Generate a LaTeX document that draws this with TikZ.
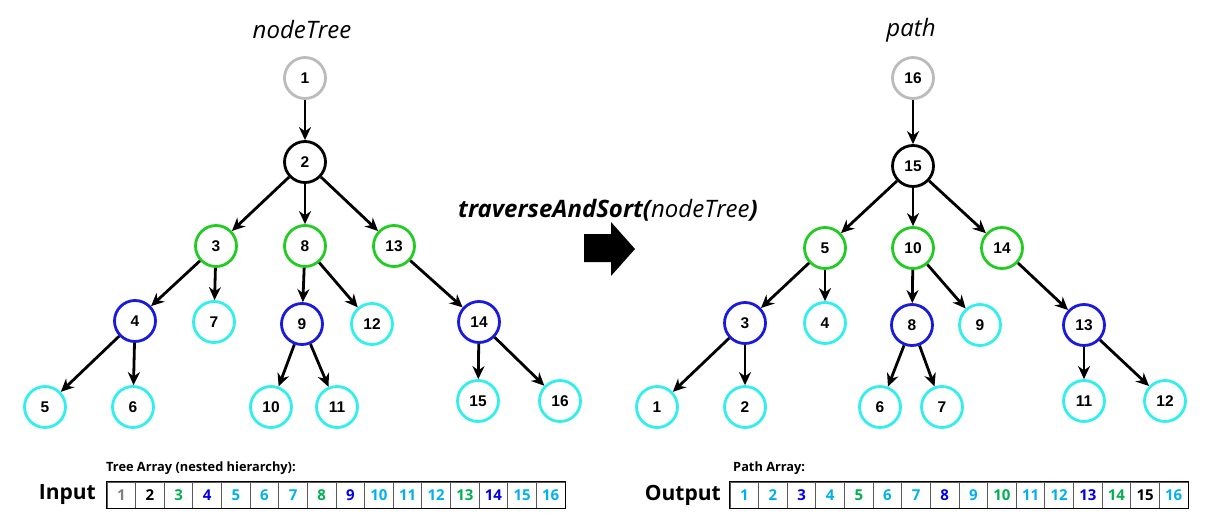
\documentclass[tikz,border=0pt]{standalone}
\usepackage{fontspec}
\setmainfont{Liberation Sans}
\newfontfamily\arrfont{Open Sans}
\newfontfamily\titlefont{Open Sans}
\usetikzlibrary{arrows.meta}

\definecolor{rootgray}{HTML}{BBBBBB}
\definecolor{levelgreen}{HTML}{22CC22}
\definecolor{levelblue}{HTML}{1A1ADD}
\definecolor{leafcyan}{HTML}{33EEEE}
\definecolor{txtgray}{HTML}{808080}
\definecolor{txtgreen}{HTML}{00B050}
\definecolor{txtblue}{HTML}{0000E6}
\definecolor{txtcyan}{HTML}{00B0F0}

\tikzset{
  tn/.style={circle, draw=#1, line width=2.8pt, minimum size=41pt, inner sep=0pt,
    fill=white, font=\fontsize{15.5}{15.5}\selectfont\bfseries},
  edge/.style={line width=2.8pt, -{Stealth[length=13pt,width=12pt]}},
  cell/.style={draw=gray!70!black, line width=0.8pt, minimum width=28.625pt,
    minimum height=26pt, inner sep=0pt, text=#1,
    font=\arrfont\fontsize{15}{15}\selectfont\bfseries},
  arrlabel/.style={anchor=west, inner sep=0pt, font=\arrfont\fontsize{12.8}{12.8}\selectfont\bfseries},
  iolabel/.style={anchor=east, inner sep=0pt, font=\arrfont\fontsize{21}{21}\selectfont\bfseries},
  title/.style={font=\titlefont\fontsize{24}{24}\selectfont\itshape}
}

\begin{document}
\begin{tikzpicture}[x=1pt,y=-1pt]
  \useasboundingbox (0,0) rectangle (1214,527);

  % titles
  \node[title] (tleft) at (302,30) {nodeTree};
  \node[title] (tright) at (911,30) {path};
  \node[title] (func) at (608,210) {\bfseries traverseAndSort(\mdseries nodeTree\bfseries)};

  % block arrow
  \fill (584,234) -- (611,234) -- (611,222) -- (635,249) -- (611,276) -- (611,262) -- (584,262) -- cycle;

  % input tree
  \foreach \n/\x/\y/\c in {1/305/78/rootgray, 2/305/162/black,
      3/216/246/levelgreen, 8/305/246/levelgreen, 13/394/246/levelgreen,
      4/135/321/levelblue, 7/214/322/leafcyan, 9/302/324/levelblue,
      12/372/324/leafcyan, 14/479/322/levelblue,
      5/45/407/leafcyan, 6/133/407/leafcyan, 10/271/407/leafcyan,
      11/337/407/leafcyan, 15/478/401/leafcyan, 16/560/401/leafcyan}
    \node[tn=\c] (l\n) at (\x,\y) {\n};
  \foreach \a/\b in {1/2, 2/3, 2/8, 2/13, 3/4, 3/7, 4/5, 4/6, 8/9, 8/12,
      9/10, 9/11, 13/14, 14/15, 14/16}
    \draw[edge] (l\a) -- (l\b);

  % output tree
  \foreach \n/\x/\y/\c in {16/913/78/rootgray, 15/913/166/black,
      5/825/248/levelgreen, 10/913/248/levelgreen, 14/1002/248/levelgreen,
      3/745/323/levelblue, 4/825/323/leafcyan, 8/912/325/levelblue,
      9/980/325/leafcyan, 13/1084/325/levelblue,
      1/657/407/leafcyan, 2/745/407/leafcyan, 6/880/407/leafcyan,
      7/942/407/leafcyan, 11/1084/401/leafcyan, 12/1165/401/leafcyan}
    \node[tn=\c] (r\n) at (\x,\y) {\n};
  \foreach \a/\b in {16/15, 15/5, 15/10, 15/14, 5/3, 5/4, 3/1, 3/2, 10/8, 10/9,
      8/6, 8/7, 14/13, 13/11, 13/12}
    \draw[edge] (r\a) -- (r\b);

  % arrays
  \node[iolabel] (input) at (96,495) {Input};
  \node[arrlabel] (intitle) at (106,468) {Tree Array (nested hierarchy):};
  \foreach \n/\c [count=\i] in {1/txtgray, 2/black, 3/txtgreen, 4/txtblue,
      5/txtcyan, 6/txtcyan, 7/txtcyan, 8/txtgreen, 9/txtblue, 10/txtcyan,
      11/txtcyan, 12/txtcyan, 13/txtgreen, 14/txtblue, 15/txtcyan, 16/txtcyan}
    \node[cell=\c] (in\i) at (107+14.3125+28.625*\i-28.625,495) {\n};
  \draw[line width=1pt] (in1.north west) rectangle (in16.south east);

  \node[iolabel] (output) at (721,495) {Output};
  \node[arrlabel] (outtitle) at (733,468) {Path Array:};
  \foreach \n/\c [count=\i] in {1/txtcyan, 2/txtcyan, 3/txtblue, 4/txtcyan,
      5/txtgreen, 6/txtcyan, 7/txtcyan, 8/txtblue, 9/txtcyan, 10/txtgreen,
      11/txtcyan, 12/txtcyan, 13/txtblue, 14/txtgreen, 15/black, 16/txtcyan}
    \node[cell=\c] (out\i) at (730+14.3125+28.625*\i-28.625,495) {\n};
  \draw[line width=1pt] (out1.north west) rectangle (out16.south east);
\end{tikzpicture}
\end{document}
